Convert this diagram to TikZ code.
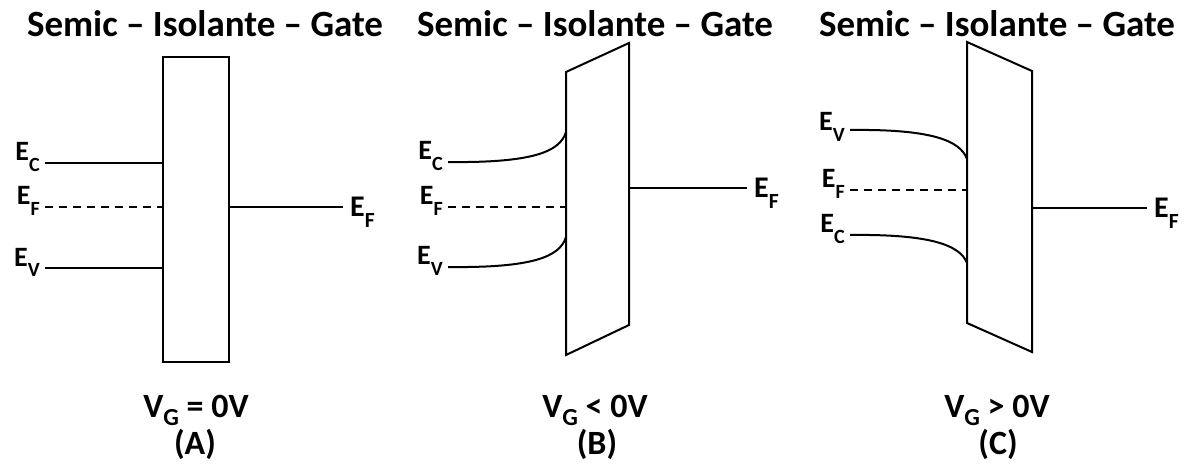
\documentclass[tikz,border=0pt]{standalone}
\usepackage{fontspec}
\setmainfont{Carlito}
\usepackage{graphicx}
\usepackage{tikz}
\usetikzlibrary{positioning}

% energy level label with a lowered subscript
\newcommand\lowsub[2][0.36em]{\raisebox{-#1}{\scalebox{0.72}{#2}}}
\newcommand\Elev[1]{E\lowsub{#1}}

\begin{document}
\begin{tikzpicture}[
    x=1pt, y=-1pt,
    lvl/.style={line width=2pt},
    fermi/.style={line width=2pt, dash pattern=on 8pt off 6pt},
    barrier/.style={line width=2pt, line join=miter},
    ttl/.style={font=\fontsize{37}{40}\selectfont\bfseries, inner sep=0pt, anchor=base},
    capt/.style={font=\fontsize{34}{36}\selectfont\bfseries, inner sep=0pt, anchor=base},
    lbl/.style={font=\fontsize{28}{30}\selectfont\bfseries, inner sep=0pt},
    lblr/.style={font=\fontsize{30}{32}\selectfont\bfseries, inner sep=0pt},
  ]
  \useasboundingbox (0,0) rectangle (1190,470);

  % --- titles ---
  \node[ttl] (titA) at (205,37) {Semic -- Isolante -- Gate};
  \node[ttl] (titB) at (595,37) {Semic -- Isolante -- Gate};
  \node[ttl] (titC) at (997,37) {Semic -- Isolante -- Gate};

  % --- (A) flat bands ---
  \draw[barrier] (163,57) rectangle (229,362);
  \coordinate (A-ec0) at (45,163);  \coordinate (A-ec1) at (163,163);
  \coordinate (A-ef0) at (45,207);  \coordinate (A-ef1) at (163,207);
  \coordinate (A-ev0) at (45,268);  \coordinate (A-ev1) at (163,268);
  \coordinate (A-gf0) at (229,207); \coordinate (A-gf1) at (343,207);
  \draw[lvl] (A-ec0) -- (A-ec1);
  \draw[fermi] (A-ef0) -- (A-ef1);
  \draw[lvl] (A-ev0) -- (A-ev1);
  \draw[lvl] (A-gf0) -- (A-gf1);
  \node[lbl, left=5pt of A-ec0, anchor=base east, yshift=2pt] (A-ecl) {\Elev{C}};
  \node[lbl, left=5pt of A-ef0, anchor=base east, yshift=2pt] (A-efl) {\Elev{F}};
  \node[lbl, left=5pt of A-ev0, anchor=base east, yshift=2pt] (A-evl) {\Elev{V}};
  \node[lblr, right=7pt of A-gf1, anchor=base west, yshift=-10pt] (A-gfl) {\Elev{F}};
  \node[capt] (A-vg) at (196,417) {V\lowsub[0.24em]{G} = 0V};
  \node[capt] (A-tag) at (195,454) {(A)};

  % --- (B) V_G < 0 ---
  \draw[barrier] (566,72) -- (629,43) -- (629,325) -- (566,355) -- cycle;
  \coordinate (B-ec0) at (448,162); \coordinate (B-ec1) at (566,132);
  \coordinate (B-ef0) at (448,207); \coordinate (B-ef1) at (566,207);
  \coordinate (B-ev0) at (448,267); \coordinate (B-ev1) at (566,237);
  \coordinate (B-gf0) at (629,188); \coordinate (B-gf1) at (747,188);
  \draw[lvl] (B-ec0) .. controls (532,163) and (560,152) .. (B-ec1);
  \draw[fermi] (B-ef0) -- (B-ef1);
  \draw[lvl] (B-ev0) .. controls (532,268) and (560,257) .. (B-ev1);
  \draw[lvl] (B-gf0) -- (B-gf1);
  \node[lbl, left=5pt of B-ec0, anchor=base east, yshift=2pt] (B-ecl) {\Elev{C}};
  \node[lbl, left=5pt of B-ef0, anchor=base east, yshift=2pt] (B-efl) {\Elev{F}};
  \node[lbl, left=5pt of B-ev0, anchor=base east, yshift=2pt] (B-evl) {\Elev{V}};
  \node[lblr, right=7pt of B-gf1, anchor=base west, yshift=-10pt] (B-gfl) {\Elev{F}};
  \node[capt] (B-vg) at (595,417) {V\lowsub[0.24em]{G} < 0V};
  \node[capt] (B-tag) at (597,454) {(B)};

  % --- (C) V_G > 0 ---
  \draw[barrier] (967,42) -- (1032,71) -- (1032,352) -- (967,323) -- cycle;
  \coordinate (C-ev0) at (850,130); \coordinate (C-ev1) at (967,159);
  \coordinate (C-ef0) at (850,190); \coordinate (C-ef1) at (967,190);
  \coordinate (C-ec0) at (850,235); \coordinate (C-ec1) at (967,263);
  \coordinate (C-gf0) at (1032,208); \coordinate (C-gf1) at (1147,208);
  \draw[lvl] (C-ev0) .. controls (930,129) and (960,140) .. (C-ev1);
  \draw[fermi] (C-ef0) -- (C-ef1);
  \draw[lvl] (C-ec0) .. controls (930,234) and (960,245) .. (C-ec1);
  \draw[lvl] (C-gf0) -- (C-gf1);
  \node[lbl, left=5pt of C-ev0, anchor=base east, yshift=-1pt] (C-evl) {\Elev{V}};
  \node[lbl, left=5pt of C-ef0, anchor=base east, yshift=2pt] (C-efl) {\Elev{F}};
  \node[lbl, left=5pt of C-ec0, anchor=base east, yshift=2pt] (C-ecl) {\Elev{C}};
  \node[lblr, right=7pt of C-gf1, anchor=base west, yshift=-10pt] (C-gfl) {\Elev{F}};
  \node[capt] (C-vg) at (997,417) {V\lowsub[0.24em]{G} > 0V};
  \node[capt] (C-tag) at (998,454) {(C)};
\end{tikzpicture}
\end{document}
